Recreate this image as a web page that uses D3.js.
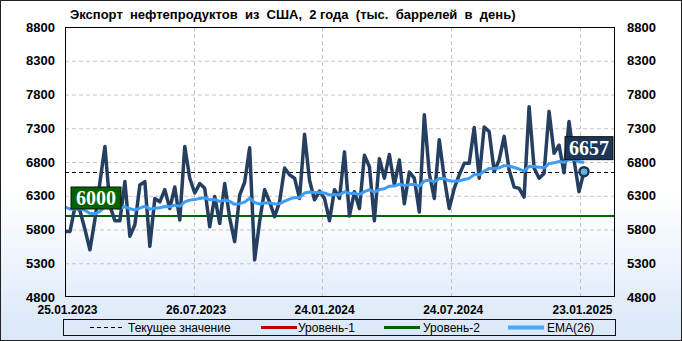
<!DOCTYPE html>
<html lang="ru">
<head>
<meta charset="utf-8">
<title>Экспорт нефтепродуктов из США</title>
<script src="https://cdn.jsdelivr.net/npm/d3@7/dist/d3.min.js"></script>
<style>
  body { margin: 0; background: #fff; }
  .grid line { stroke: #c4c4c4; stroke-dasharray: 4, 3; }
  .axisLabel { font-family: "Liberation Sans", Arial, sans-serif; font-weight: bold; fill: #000; }
  .legend text { font-family: "Liberation Sans", Arial, sans-serif; font-size: 12px; fill: #000; }
</style>
</head>
<body>
<script>

// weekly values, thousand barrels per day
var exportValues = [
  5770, 5770, 6140, 6080, 5800, 5500, 5950, 6500, 7030, 6150,
  5930, 5930, 6510, 5700, 5870, 6460, 6510, 5550, 6260, 6210,
  6390, 6110, 6430, 5940, 7030, 6560, 6340, 6480, 6410, 5840,
  6290, 5890, 6480, 5970, 5620, 6310, 6500, 7010, 5350, 5920,
  6390, 6210, 5990, 6210, 6710, 6610, 6560, 6260, 7210, 6530,
  6240, 6370, 6260, 5930, 6390, 6260, 6950, 6000, 6360, 6110,
  6900, 6730, 5930, 6850, 6560, 6910, 6460, 6830, 6180, 6650,
  6560, 6060, 7500, 6630, 6260, 7130, 6560, 6110, 6410, 6610,
  6780, 6780, 7310, 6560, 7320, 7250, 6660, 6830, 7180, 6680,
  6430, 6410, 6280, 7620, 6710, 6560, 6630, 7550, 6930, 7050,
  6640, 7400, 6830, 6360, 6657
];

var emaPeriod = 26;
var emaStart = 6160;          // EMA level at the left edge
var level2 = 6000;            // "Уровень-2"
var currentValue = 6657;

var yTicks = [4800, 5300, 5800, 6300, 6800, 7300, 7800, 8300, 8800];
var xTickLabels = ["25.01.2023", "26.07.2023", "24.01.2024", "24.07.2024", "23.01.2025"];

var legendLabels = ["Текущее значение", "Уровень-1", "Уровень-2", "EMA(26)"];

var titleText = "Экспорт  нефтепродуктов  из  США,  2 года  (тыс.  баррелей  в  день)";

//Width and height
var w = 682;
var h = 341;
var plot = { left: 65, right: 615, top: 27, bottom: 297 };

// EMA(26) over the weekly series
var alpha = 2 / (emaPeriod + 1);
var emaValues = [];
exportValues.forEach(function(v, i) {
  var prev = i === 0 ? emaStart : emaValues[i - 1];
  emaValues.push(prev + alpha * (v - prev));
});

var parseDate = d3.timeParse("%d.%m.%Y");
var tickDates = xTickLabels.map(parseDate);

//Scales
var xScale = d3.scaleLinear()
  .domain([0, exportValues.length - 1])
  .range([plot.left, 584]);

var xTime = d3.scaleTime()
  .domain([tickDates[0], tickDates[tickDates.length - 1]])
  .range([plot.left, 580]);

var yScale = d3.scaleLinear()
  .domain([4800, 8800])
  .range([plot.bottom, plot.top]);

var svg = d3.select("body")
  .append("svg")
  .attr("width", w)
  .attr("height", h);

var defs = svg.append("defs");
var outerGrad = defs.append("linearGradient")
  .attr("id", "outerGrad").attr("x1", 0).attr("y1", 0).attr("x2", 0).attr("y2", 1);
outerGrad.append("stop").attr("offset", "0%").attr("stop-color", "#ffffff");
outerGrad.append("stop").attr("offset", "55%").attr("stop-color", "#ffffff");
outerGrad.append("stop").attr("offset", "100%").attr("stop-color", "#d9e7f8");

var plotGrad = defs.append("linearGradient")
  .attr("id", "plotGrad").attr("x1", 0).attr("y1", 0).attr("x2", 0).attr("y2", 1);
plotGrad.append("stop").attr("offset", "0%").attr("stop-color", "#ffffff");
plotGrad.append("stop").attr("offset", "68%").attr("stop-color", "#ffffff");
plotGrad.append("stop").attr("offset", "100%").attr("stop-color", "#e2edfb");

//Background and frame
svg.append("rect")
  .attr("x", 0.5).attr("y", 0.5)
  .attr("width", w - 1).attr("height", h - 1)
  .attr("fill", "url(#outerGrad)")
  .attr("stroke", "#222");

svg.append("rect")
  .attr("x", plot.left).attr("y", plot.top)
  .attr("width", plot.right - plot.left).attr("height", plot.bottom - plot.top)
  .attr("fill", "url(#plotGrad)");

//Title
svg.append("text")
  .attr("x", 70)
  .attr("y", 19)
  .attr("font-family", "'Liberation Sans', Arial, sans-serif")
  .attr("font-size", "13px")
  .attr("font-weight", "bold")
  .style("white-space", "pre")
  .text(titleText);

//Grid
var grid = svg.append("g").attr("class", "grid");
grid.selectAll(".hgrid")
  .data(yTicks.slice(1, -1))
  .enter().append("line")
  .attr("x1", plot.left).attr("x2", plot.right)
  .attr("y1", function(d) { return yScale(d) + 0.5; })
  .attr("y2", function(d) { return yScale(d) + 0.5; });

grid.selectAll(".vgrid")
  .data(tickDates.slice(1))
  .enter().append("line")
  .attr("x1", function(d) { return Math.round(xTime(d)) + 0.5; })
  .attr("x2", function(d) { return Math.round(xTime(d)) + 0.5; })
  .attr("y1", plot.top).attr("y2", plot.bottom);

//Y axes (labels only)
var yLeft = d3.axisLeft(yScale).tickValues(yTicks).tickFormat(d3.format("d")).tickSize(0).tickPadding(10);
var yRight = d3.axisRight(yScale).tickValues(yTicks).tickFormat(d3.format("d")).tickSize(0).tickPadding(12);

svg.append("g")
  .attr("transform", "translate(" + plot.left + ",0)")
  .call(yLeft)
  .call(function(g) { g.select(".domain").remove(); })
  .selectAll("text").attr("class", "axisLabel").style("font-size", "13px");

svg.append("g")
  .attr("transform", "translate(" + plot.right + ",0)")
  .call(yRight)
  .call(function(g) { g.select(".domain").remove(); })
  .selectAll("text").attr("class", "axisLabel").style("font-size", "13px");

//X axis (labels only)
var xAxis = d3.axisBottom(xTime)
  .tickValues(tickDates)
  .tickFormat(d3.timeFormat("%d.%m.%Y"))
  .tickSize(0)
  .tickPadding(8);

svg.append("g")
  .attr("transform", "translate(2," + plot.bottom + ")")
  .call(xAxis)
  .call(function(g) { g.select(".domain").remove(); })
  .selectAll("text").attr("class", "axisLabel").style("font-size", "12px");

//Level line and current value line
svg.append("line")
  .attr("x1", plot.left).attr("x2", plot.right)
  .attr("y1", yScale(level2)).attr("y2", yScale(level2))
  .attr("stroke", "#006400").attr("stroke-width", 2);

svg.append("line")
  .attr("x1", plot.left).attr("x2", plot.right)
  .attr("y1", Math.round(yScale(currentValue)) + 0.5).attr("y2", Math.round(yScale(currentValue)) + 0.5)
  .attr("stroke", "#000").attr("stroke-width", 1).attr("stroke-dasharray", "4,3");

//Lines
var line = d3.line()
  .x(function(d, i) { return xScale(i); })
  .y(function(d) { return yScale(d); });

svg.append("path")
  .datum(exportValues)
  .attr("fill", "none")
  .attr("stroke", "#253f61")
  .attr("stroke-width", 3.5)
  .attr("stroke-linejoin", "round")
  .attr("d", line);

svg.append("path")
  .datum(emaValues)
  .attr("fill", "none")
  .attr("stroke", "#3d9cf4")
  .attr("stroke-width", 3)
  .attr("stroke-linejoin", "round")
  .attr("d", line);

//Last point marker
var lastIdx = exportValues.length - 1;
svg.append("circle")
  .attr("cx", xScale(lastIdx))
  .attr("cy", yScale(exportValues[lastIdx]))
  .attr("r", 4.5)
  .attr("fill", "#62b6d6")
  .attr("stroke", "#1c3558")
  .attr("stroke-width", 2.5);

//Value labels
function valueBox(x, y, bw, bh, fill, label) {
  var g = svg.append("g");
  g.append("rect")
    .attr("x", x).attr("y", y).attr("width", bw).attr("height", bh)
    .attr("fill", fill).attr("stroke", "#111").attr("stroke-width", 1);
  g.append("text")
    .attr("x", x + bw / 2).attr("y", y + bh / 2 + 6.5)
    .attr("text-anchor", "middle")
    .attr("font-family", "'Liberation Serif', 'DejaVu Serif', serif")
    .attr("font-size", "20px")
    .attr("font-weight", "bold")
    .attr("fill", "#fff")
    .text(label);
}
valueBox(71, yScale(level2) - 29, 50, 22, "#006400", level2);
valueBox(565, yScale(currentValue) - 35, 48, 23, "#1c3558", currentValue);

//Plot frame
svg.append("rect")
  .attr("x", plot.left + 0.5).attr("y", plot.top + 0.5)
  .attr("width", plot.right - plot.left - 1).attr("height", plot.bottom - plot.top - 1)
  .attr("fill", "none").attr("stroke", "#000");

//Legend
var legend = svg.append("g").attr("class", "legend");
legend.append("rect")
  .attr("x", 63.5).attr("y", 319.5).attr("width", 552).attr("height", 16)
  .attr("fill", "none").attr("stroke", "#111");

var legendItems = [
  { x: 90, color: "#000", width: 1, dash: "4,3" },
  { x: 261, color: "#c00000", width: 3, dash: null },
  { x: 384, color: "#006400", width: 3, dash: null },
  { x: 508, color: "#4aa8f8", width: 4, dash: null }
];
var legendTextX = [128, 298, 423, 547];
var legendLineW = [32, 36, 36, 36];

legendItems.forEach(function(item, i) {
  legend.append("line")
    .attr("x1", item.x).attr("x2", item.x + legendLineW[i])
    .attr("y1", 327.5).attr("y2", 327.5)
    .attr("stroke", item.color).attr("stroke-width", item.width)
    .attr("stroke-dasharray", item.dash);
  legend.append("text")
    .attr("x", legendTextX[i]).attr("y", 332)
    .text(legendLabels[i]);
});

</script>
</body>
</html>
